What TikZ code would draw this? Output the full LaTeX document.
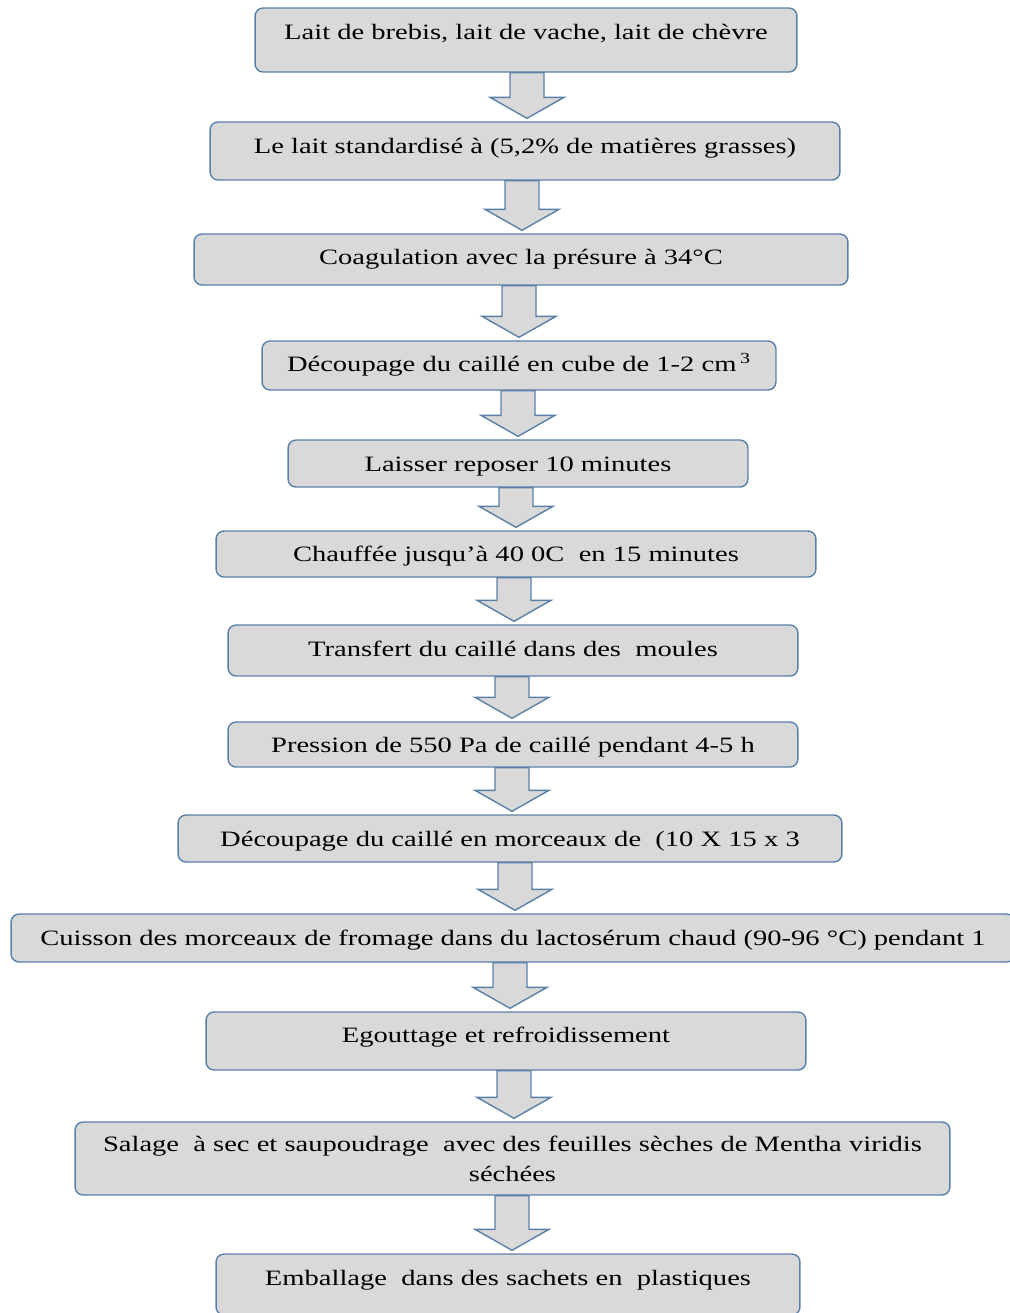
\documentclass[tikz,border=0pt]{standalone}
\usepackage{fontspec}
\setmainfont[FakeStretch=1.3]{Liberation Serif}
\usetikzlibrary{calc}
\definecolor{boxfill}{HTML}{D9D9D9}
\definecolor{boxline}{HTML}{5B80A8}

\begin{document}
\begin{tikzpicture}[x=0.02cm, y=-0.02cm,
	box/.style={draw=boxline, fill=boxfill, line width=0.8pt, rounded corners=0.16cm, inner sep=0pt, align=center, font=\fontsize{12.5}{17}\selectfont},
	lift/.style={text height=0.3cm, text depth=#1}, lift/.default=0cm,
	blockarrow/.style={draw=boxline, fill=boxfill, line width=0.8pt, line join=miter}]
	\useasboundingbox (0,0) rectangle (1010,1313);
	% steps
	\node[box, lift=0.32cm, minimum width=10.84cm, minimum height=1.28cm] (lait) at (526,40) {Lait de brebis, lait de vache, lait de chèvre};
	\node[box, lift=0.2cm, minimum width=12.6cm, minimum height=1.16cm] (standard) at (525,151) {Le lait standardisé à (5,2\% de matières grasses)};
	\node[box, lift=0.1cm, minimum width=13.08cm, minimum height=1.02cm] (coag) at (521,259.5) {Coagulation avec la présure à 34°C};
	\node[box, lift=0.06cm, minimum width=10.28cm, minimum height=0.98cm] (cube) at (519,365.5) {Découpage du caillé en cube de 1-2 cm\,\textsuperscript{3}};
	\node[box, lift, minimum width=9.2cm, minimum height=0.94cm] (repos) at (518,463.5) {Laisser reposer 10 minutes};
	\node[box, lift, minimum width=12cm, minimum height=0.92cm] (chauffe) at (516,554) {Chauffée jusqu'à 40 0C\ \ en 15 minutes};
	\node[box, lift=0.06cm, minimum width=11.4cm, minimum height=1.02cm] (moules) at (513,650.5) {Transfert du caillé dans des\ \ moules};
	\node[box, lift, minimum width=11.4cm, minimum height=0.9cm] (pression) at (513,744.5) {Pression de 550 Pa de caillé pendant 4-5 h};
	\node[box, lift, minimum width=13.28cm, minimum height=0.94cm] (morceaux) at (510,838.5) {Découpage du caillé en morceaux de\ \ (10 X 15 x 3};
	\node[box, lift, minimum width=20.08cm, minimum height=0.96cm] (cuisson) at (513,938) {Cuisson des morceaux de fromage dans du lactosérum chaud (90-96 °C) pendant 1};
	\node[box, lift=0.24cm, minimum width=12cm, minimum height=1.16cm] (egout) at (506,1041) {Egouttage et refroidissement};
	\node[box, minimum width=17.5cm, minimum height=1.46cm] (salage) at (512.5,1158.5) {Salage\ \ à sec et saupoudrage\ \ avec des feuilles sèches de Mentha viridis\\séchées};
	\node[box, lift=0.26cm, minimum width=11.68cm, minimum height=1.22cm] (emball) at (508,1284.5) {Emballage\ \ dans des sachets en\ \ plastiques};
	% arrows
	\foreach \a/\b/\ax in {lait/standard/527, standard/coag/522, coag/cube/519, cube/repos/518, repos/chauffe/516, chauffe/moules/514, moules/pression/512, pression/morceaux/512, morceaux/cuisson/515, cuisson/egout/510, egout/salage/514, salage/emball/512} {
		\coordinate (s) at (\ax,0 |- \a.south);
		\coordinate (t) at ($(s |- \b.north)+(0,-3)$);
		\coordinate (h) at ($(s |- \b.north)+(0,-24)$);
		\draw[blockarrow] ($(s)+(-17,0)$) -- ($(s)+(17,0)$) -- ($(h)+(17,0)$) -- ($(h)+(37,0)$) -- (t) -- ($(h)+(-37,0)$) -- ($(h)+(-17,0)$) -- cycle;
	}
\end{tikzpicture}
\end{document}
